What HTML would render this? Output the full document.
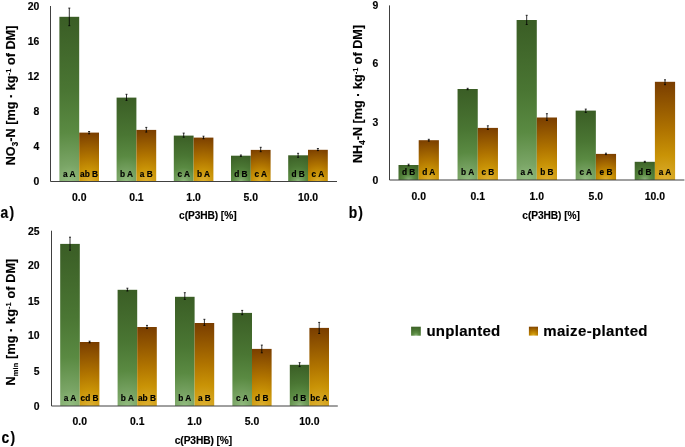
<!DOCTYPE html><html><head><meta charset="utf-8"><style>html,body{margin:0;padding:0;background:#fff;overflow:hidden}svg{display:block;will-change:transform}text{font-family:"Liberation Sans", sans-serif;font-weight:bold;fill:#000;stroke:#000;stroke-width:0.15px}</style></head><body>
<svg width="685" height="447" viewBox="0 0 685 447">
<defs><radialGradient id="r1" gradientUnits="userSpaceOnUse" cx="69.30" cy="181.50" r="165.00"><stop offset="0" stop-color="#93bd80"/><stop offset="0.1" stop-color="#7aa566"/><stop offset="0.3" stop-color="#5a8a42"/><stop offset="0.55" stop-color="#4a7633"/><stop offset="1" stop-color="#3a5d25"/></radialGradient><radialGradient id="r2" gradientUnits="userSpaceOnUse" cx="89.10" cy="181.50" r="49.89"><stop offset="0" stop-color="#ddb030"/><stop offset="0.25" stop-color="#c99306"/><stop offset="0.5" stop-color="#b07400"/><stop offset="1" stop-color="#793d00"/></radialGradient><radialGradient id="r3" gradientUnits="userSpaceOnUse" cx="126.50" cy="181.50" r="84.48"><stop offset="0" stop-color="#93bd80"/><stop offset="0.1" stop-color="#7aa566"/><stop offset="0.3" stop-color="#5a8a42"/><stop offset="0.55" stop-color="#4a7633"/><stop offset="1" stop-color="#3a5d25"/></radialGradient><radialGradient id="r4" gradientUnits="userSpaceOnUse" cx="146.30" cy="181.50" r="52.54"><stop offset="0" stop-color="#ddb030"/><stop offset="0.25" stop-color="#c99306"/><stop offset="0.5" stop-color="#b07400"/><stop offset="1" stop-color="#793d00"/></radialGradient><radialGradient id="r5" gradientUnits="userSpaceOnUse" cx="183.70" cy="181.50" r="46.96"><stop offset="0" stop-color="#93bd80"/><stop offset="0.1" stop-color="#7aa566"/><stop offset="0.3" stop-color="#5a8a42"/><stop offset="0.55" stop-color="#4a7633"/><stop offset="1" stop-color="#3a5d25"/></radialGradient><radialGradient id="r6" gradientUnits="userSpaceOnUse" cx="203.50" cy="181.50" r="45.00"><stop offset="0" stop-color="#ddb030"/><stop offset="0.25" stop-color="#c99306"/><stop offset="0.5" stop-color="#b07400"/><stop offset="1" stop-color="#793d00"/></radialGradient><radialGradient id="r7" gradientUnits="userSpaceOnUse" cx="240.90" cy="181.50" r="27.63"><stop offset="0" stop-color="#93bd80"/><stop offset="0.1" stop-color="#7aa566"/><stop offset="0.3" stop-color="#5a8a42"/><stop offset="0.55" stop-color="#4a7633"/><stop offset="1" stop-color="#3a5d25"/></radialGradient><radialGradient id="r8" gradientUnits="userSpaceOnUse" cx="260.70" cy="181.50" r="33.11"><stop offset="0" stop-color="#ddb030"/><stop offset="0.25" stop-color="#c99306"/><stop offset="0.5" stop-color="#b07400"/><stop offset="1" stop-color="#793d00"/></radialGradient><radialGradient id="r9" gradientUnits="userSpaceOnUse" cx="298.10" cy="181.50" r="28.01"><stop offset="0" stop-color="#93bd80"/><stop offset="0.1" stop-color="#7aa566"/><stop offset="0.3" stop-color="#5a8a42"/><stop offset="0.55" stop-color="#4a7633"/><stop offset="1" stop-color="#3a5d25"/></radialGradient><radialGradient id="r10" gradientUnits="userSpaceOnUse" cx="317.90" cy="181.50" r="33.21"><stop offset="0" stop-color="#ddb030"/><stop offset="0.25" stop-color="#c99306"/><stop offset="0.5" stop-color="#b07400"/><stop offset="1" stop-color="#793d00"/></radialGradient><radialGradient id="r11" gradientUnits="userSpaceOnUse" cx="408.60" cy="180.00" r="18.08"><stop offset="0" stop-color="#93bd80"/><stop offset="0.1" stop-color="#7aa566"/><stop offset="0.3" stop-color="#5a8a42"/><stop offset="0.55" stop-color="#4a7633"/><stop offset="1" stop-color="#3a5d25"/></radialGradient><radialGradient id="r12" gradientUnits="userSpaceOnUse" cx="428.80" cy="180.00" r="41.06"><stop offset="0" stop-color="#ddb030"/><stop offset="0.25" stop-color="#c99306"/><stop offset="0.5" stop-color="#b07400"/><stop offset="1" stop-color="#793d00"/></radialGradient><radialGradient id="r13" gradientUnits="userSpaceOnUse" cx="467.65" cy="180.00" r="91.56"><stop offset="0" stop-color="#93bd80"/><stop offset="0.1" stop-color="#7aa566"/><stop offset="0.3" stop-color="#5a8a42"/><stop offset="0.55" stop-color="#4a7633"/><stop offset="1" stop-color="#3a5d25"/></radialGradient><radialGradient id="r14" gradientUnits="userSpaceOnUse" cx="487.85" cy="180.00" r="53.07"><stop offset="0" stop-color="#ddb030"/><stop offset="0.25" stop-color="#c99306"/><stop offset="0.5" stop-color="#b07400"/><stop offset="1" stop-color="#793d00"/></radialGradient><radialGradient id="r15" gradientUnits="userSpaceOnUse" cx="526.70" cy="180.00" r="160.32"><stop offset="0" stop-color="#93bd80"/><stop offset="0.1" stop-color="#7aa566"/><stop offset="0.3" stop-color="#5a8a42"/><stop offset="0.55" stop-color="#4a7633"/><stop offset="1" stop-color="#3a5d25"/></radialGradient><radialGradient id="r16" gradientUnits="userSpaceOnUse" cx="546.90" cy="180.00" r="63.31"><stop offset="0" stop-color="#ddb030"/><stop offset="0.25" stop-color="#c99306"/><stop offset="0.5" stop-color="#b07400"/><stop offset="1" stop-color="#793d00"/></radialGradient><radialGradient id="r17" gradientUnits="userSpaceOnUse" cx="585.75" cy="180.00" r="70.13"><stop offset="0" stop-color="#93bd80"/><stop offset="0.1" stop-color="#7aa566"/><stop offset="0.3" stop-color="#5a8a42"/><stop offset="0.55" stop-color="#4a7633"/><stop offset="1" stop-color="#3a5d25"/></radialGradient><radialGradient id="r18" gradientUnits="userSpaceOnUse" cx="605.95" cy="180.00" r="27.99"><stop offset="0" stop-color="#ddb030"/><stop offset="0.25" stop-color="#c99306"/><stop offset="0.5" stop-color="#b07400"/><stop offset="1" stop-color="#793d00"/></radialGradient><radialGradient id="r19" gradientUnits="userSpaceOnUse" cx="644.80" cy="180.00" r="20.81"><stop offset="0" stop-color="#93bd80"/><stop offset="0.1" stop-color="#7aa566"/><stop offset="0.3" stop-color="#5a8a42"/><stop offset="0.55" stop-color="#4a7633"/><stop offset="1" stop-color="#3a5d25"/></radialGradient><radialGradient id="r20" gradientUnits="userSpaceOnUse" cx="665.00" cy="180.00" r="98.72"><stop offset="0" stop-color="#ddb030"/><stop offset="0.25" stop-color="#c99306"/><stop offset="0.5" stop-color="#b07400"/><stop offset="1" stop-color="#793d00"/></radialGradient><radialGradient id="r21" gradientUnits="userSpaceOnUse" cx="70.00" cy="406.00" r="162.40"><stop offset="0" stop-color="#93bd80"/><stop offset="0.1" stop-color="#7aa566"/><stop offset="0.3" stop-color="#5a8a42"/><stop offset="0.55" stop-color="#4a7633"/><stop offset="1" stop-color="#3a5d25"/></radialGradient><radialGradient id="r22" gradientUnits="userSpaceOnUse" cx="89.60" cy="406.00" r="64.75"><stop offset="0" stop-color="#ddb030"/><stop offset="0.25" stop-color="#c99306"/><stop offset="0.5" stop-color="#b07400"/><stop offset="1" stop-color="#793d00"/></radialGradient><radialGradient id="r23" gradientUnits="userSpaceOnUse" cx="127.40" cy="406.00" r="116.61"><stop offset="0" stop-color="#93bd80"/><stop offset="0.1" stop-color="#7aa566"/><stop offset="0.3" stop-color="#5a8a42"/><stop offset="0.55" stop-color="#4a7633"/><stop offset="1" stop-color="#3a5d25"/></radialGradient><radialGradient id="r24" gradientUnits="userSpaceOnUse" cx="147.00" cy="406.00" r="79.61"><stop offset="0" stop-color="#ddb030"/><stop offset="0.25" stop-color="#c99306"/><stop offset="0.5" stop-color="#b07400"/><stop offset="1" stop-color="#793d00"/></radialGradient><radialGradient id="r25" gradientUnits="userSpaceOnUse" cx="184.80" cy="406.00" r="109.64"><stop offset="0" stop-color="#93bd80"/><stop offset="0.1" stop-color="#7aa566"/><stop offset="0.3" stop-color="#5a8a42"/><stop offset="0.55" stop-color="#4a7633"/><stop offset="1" stop-color="#3a5d25"/></radialGradient><radialGradient id="r26" gradientUnits="userSpaceOnUse" cx="204.40" cy="406.00" r="83.58"><stop offset="0" stop-color="#ddb030"/><stop offset="0.25" stop-color="#c99306"/><stop offset="0.5" stop-color="#b07400"/><stop offset="1" stop-color="#793d00"/></radialGradient><radialGradient id="r27" gradientUnits="userSpaceOnUse" cx="242.20" cy="406.00" r="93.61"><stop offset="0" stop-color="#93bd80"/><stop offset="0.1" stop-color="#7aa566"/><stop offset="0.3" stop-color="#5a8a42"/><stop offset="0.55" stop-color="#4a7633"/><stop offset="1" stop-color="#3a5d25"/></radialGradient><radialGradient id="r28" gradientUnits="userSpaceOnUse" cx="261.80" cy="406.00" r="57.93"><stop offset="0" stop-color="#ddb030"/><stop offset="0.25" stop-color="#c99306"/><stop offset="0.5" stop-color="#b07400"/><stop offset="1" stop-color="#793d00"/></radialGradient><radialGradient id="r29" gradientUnits="userSpaceOnUse" cx="299.60" cy="406.00" r="42.35"><stop offset="0" stop-color="#93bd80"/><stop offset="0.1" stop-color="#7aa566"/><stop offset="0.3" stop-color="#5a8a42"/><stop offset="0.55" stop-color="#4a7633"/><stop offset="1" stop-color="#3a5d25"/></radialGradient><radialGradient id="r30" gradientUnits="userSpaceOnUse" cx="319.20" cy="406.00" r="78.71"><stop offset="0" stop-color="#ddb030"/><stop offset="0.25" stop-color="#c99306"/><stop offset="0.5" stop-color="#b07400"/><stop offset="1" stop-color="#793d00"/></radialGradient><radialGradient id="r31" gradientUnits="userSpaceOnUse" cx="415.95" cy="335.70" r="10.22"><stop offset="0" stop-color="#93bd80"/><stop offset="0.1" stop-color="#7aa566"/><stop offset="0.3" stop-color="#5a8a42"/><stop offset="0.55" stop-color="#4a7633"/><stop offset="1" stop-color="#3a5d25"/></radialGradient><radialGradient id="r32" gradientUnits="userSpaceOnUse" cx="533.45" cy="335.60" r="10.00"><stop offset="0" stop-color="#ddb030"/><stop offset="0.25" stop-color="#c99306"/><stop offset="0.5" stop-color="#b07400"/><stop offset="1" stop-color="#793d00"/></radialGradient></defs>
<rect width="685" height="447" fill="#fff"/>
<rect x="59.40" y="16.80" width="19.80" height="164.70" fill="url(#r1)"/>
<text x="69.30" y="176.90" font-size="8.3" text-anchor="middle" fill="#111">a A</text>
<path d="M69.30 8.10V25.70M68.30 8.10h2M68.30 25.70h2" stroke="#000" stroke-width="0.8" fill="none"/>
<rect x="79.20" y="132.60" width="19.80" height="48.90" fill="url(#r2)"/>
<text x="89.10" y="176.90" font-size="8.3" text-anchor="middle" fill="#111">ab B</text>
<path d="M89.10 131.50V133.80M88.10 131.50h2M88.10 133.80h2" stroke="#000" stroke-width="0.8" fill="none"/>
<text x="79.20" y="201.00" font-size="10.4" text-anchor="middle">0.0</text>
<rect x="116.60" y="97.60" width="19.80" height="83.90" fill="url(#r3)"/>
<text x="126.50" y="176.90" font-size="8.3" text-anchor="middle" fill="#111">b A</text>
<path d="M126.50 94.30V100.40M125.50 94.30h2M125.50 100.40h2" stroke="#000" stroke-width="0.8" fill="none"/>
<rect x="136.40" y="129.90" width="19.80" height="51.60" fill="url(#r4)"/>
<text x="146.30" y="176.90" font-size="8.3" text-anchor="middle" fill="#111">a B</text>
<path d="M146.30 127.40V132.10M145.30 127.40h2M145.30 132.10h2" stroke="#000" stroke-width="0.8" fill="none"/>
<text x="136.40" y="201.00" font-size="10.4" text-anchor="middle">0.1</text>
<rect x="173.80" y="135.60" width="19.80" height="45.90" fill="url(#r5)"/>
<text x="183.70" y="176.90" font-size="8.3" text-anchor="middle" fill="#111">c A</text>
<path d="M183.70 133.10V137.20M182.70 133.10h2M182.70 137.20h2" stroke="#000" stroke-width="0.8" fill="none"/>
<rect x="193.60" y="137.60" width="19.80" height="43.90" fill="url(#r6)"/>
<text x="203.50" y="176.90" font-size="8.3" text-anchor="middle" fill="#111">b A</text>
<path d="M203.50 136.20V138.70M202.50 136.20h2M202.50 138.70h2" stroke="#000" stroke-width="0.8" fill="none"/>
<text x="193.60" y="201.00" font-size="10.4" text-anchor="middle">1.0</text>
<rect x="231.00" y="155.70" width="19.80" height="25.80" fill="url(#r7)"/>
<text x="240.90" y="176.90" font-size="8.3" text-anchor="middle" fill="#111">d B</text>
<path d="M240.90 155.00V156.40M239.90 155.00h2M239.90 156.40h2" stroke="#000" stroke-width="0.8" fill="none"/>
<rect x="250.80" y="149.90" width="19.80" height="31.60" fill="url(#r8)"/>
<text x="260.70" y="176.90" font-size="8.3" text-anchor="middle" fill="#111">c A</text>
<path d="M260.70 147.30V151.70M259.70 147.30h2M259.70 151.70h2" stroke="#000" stroke-width="0.8" fill="none"/>
<text x="250.80" y="201.00" font-size="10.4" text-anchor="middle">5.0</text>
<rect x="288.20" y="155.30" width="19.80" height="26.20" fill="url(#r9)"/>
<text x="298.10" y="176.90" font-size="8.3" text-anchor="middle" fill="#111">d B</text>
<path d="M298.10 153.30V157.30M297.10 153.30h2M297.10 157.30h2" stroke="#000" stroke-width="0.8" fill="none"/>
<rect x="308.00" y="149.80" width="19.80" height="31.70" fill="url(#r10)"/>
<text x="317.90" y="176.90" font-size="8.3" text-anchor="middle" fill="#111">c A</text>
<path d="M317.90 148.50V150.60M316.90 148.50h2M316.90 150.60h2" stroke="#000" stroke-width="0.8" fill="none"/>
<text x="308.00" y="201.00" font-size="10.4" text-anchor="middle">10.0</text>
<path d="M50.50 6.00V181.50H337.00" stroke="#404040" stroke-width="1" fill="none"/>
<text x="39.20" y="185.10" font-size="10.4" text-anchor="end">0</text>
<text x="39.20" y="150.40" font-size="10.4" text-anchor="end">4</text>
<text x="39.20" y="114.60" font-size="10.4" text-anchor="end">8</text>
<text x="39.20" y="79.90" font-size="10.4" text-anchor="end">12</text>
<text x="39.20" y="45.30" font-size="10.4" text-anchor="end">16</text>
<text x="39.20" y="10.30" font-size="10.4" text-anchor="end">20</text>
<text x="207.80" y="218.80" font-size="10.2" text-anchor="middle" textLength="57.5">c(P3HB) [%]</text>
<text transform="translate(0.60 217.70) scale(0.84 1)" font-size="16.5" style="stroke-width:0.2px;letter-spacing:1.3px">a)</text>
<rect x="398.50" y="165.00" width="20.20" height="15.00" fill="url(#r11)"/>
<text x="408.60" y="175.40" font-size="8.3" text-anchor="middle" fill="#111">d B</text>
<path d="M408.60 164.20V165.80M407.60 164.20h2M407.60 165.80h2" stroke="#000" stroke-width="0.8" fill="none"/>
<rect x="418.70" y="140.20" width="20.20" height="39.80" fill="url(#r12)"/>
<text x="428.80" y="175.40" font-size="8.3" text-anchor="middle" fill="#111">d A</text>
<path d="M428.80 139.30V141.10M427.80 139.30h2M427.80 141.10h2" stroke="#000" stroke-width="0.8" fill="none"/>
<text x="418.70" y="199.90" font-size="10.4" text-anchor="middle">0.0</text>
<rect x="457.55" y="89.00" width="20.20" height="91.00" fill="url(#r13)"/>
<text x="467.65" y="175.40" font-size="8.3" text-anchor="middle" fill="#111">b A</text>
<path d="M467.65 88.30V89.70M466.65 88.30h2M466.65 89.70h2" stroke="#000" stroke-width="0.8" fill="none"/>
<rect x="477.75" y="127.90" width="20.20" height="52.10" fill="url(#r14)"/>
<text x="487.85" y="175.40" font-size="8.3" text-anchor="middle" fill="#111">c B</text>
<path d="M487.85 125.80V129.50M486.85 125.80h2M486.85 129.50h2" stroke="#000" stroke-width="0.8" fill="none"/>
<text x="477.75" y="199.90" font-size="10.4" text-anchor="middle">0.1</text>
<rect x="516.60" y="20.00" width="20.20" height="160.00" fill="url(#r15)"/>
<text x="526.70" y="175.40" font-size="8.3" text-anchor="middle" fill="#111">a A</text>
<path d="M526.70 15.30V24.50M525.70 15.30h2M525.70 24.50h2" stroke="#000" stroke-width="0.8" fill="none"/>
<rect x="536.80" y="117.50" width="20.20" height="62.50" fill="url(#r16)"/>
<text x="546.90" y="175.40" font-size="8.3" text-anchor="middle" fill="#111">b B</text>
<path d="M546.90 113.70V120.40M545.90 113.70h2M545.90 120.40h2" stroke="#000" stroke-width="0.8" fill="none"/>
<text x="536.80" y="199.90" font-size="10.4" text-anchor="middle">1.0</text>
<rect x="575.65" y="110.60" width="20.20" height="69.40" fill="url(#r17)"/>
<text x="585.75" y="175.40" font-size="8.3" text-anchor="middle" fill="#111">c A</text>
<path d="M585.75 109.10V112.40M584.75 109.10h2M584.75 112.40h2" stroke="#000" stroke-width="0.8" fill="none"/>
<rect x="595.85" y="153.90" width="20.20" height="26.10" fill="url(#r18)"/>
<text x="605.95" y="175.40" font-size="8.3" text-anchor="middle" fill="#111">e B</text>
<path d="M605.95 153.20V154.60M604.95 153.20h2M604.95 154.60h2" stroke="#000" stroke-width="0.8" fill="none"/>
<text x="595.85" y="199.90" font-size="10.4" text-anchor="middle">5.0</text>
<rect x="634.70" y="161.80" width="20.20" height="18.20" fill="url(#r19)"/>
<text x="644.80" y="175.40" font-size="8.3" text-anchor="middle" fill="#111">d B</text>
<path d="M644.80 161.30V162.30M643.80 161.30h2M643.80 162.30h2" stroke="#000" stroke-width="0.8" fill="none"/>
<rect x="654.90" y="81.80" width="20.20" height="98.20" fill="url(#r20)"/>
<text x="665.00" y="175.40" font-size="8.3" text-anchor="middle" fill="#111">a A</text>
<path d="M665.00 79.80V84.70M664.00 79.80h2M664.00 84.70h2" stroke="#000" stroke-width="0.8" fill="none"/>
<text x="654.90" y="199.90" font-size="10.4" text-anchor="middle">10.0</text>
<path d="M389.50 5.40V180.00H684.40" stroke="#404040" stroke-width="1" fill="none"/>
<text x="378.40" y="183.70" font-size="10.4" text-anchor="end">0</text>
<text x="378.40" y="125.50" font-size="10.4" text-anchor="end">3</text>
<text x="378.40" y="67.30" font-size="10.4" text-anchor="end">6</text>
<text x="378.40" y="9.10" font-size="10.4" text-anchor="end">9</text>
<text x="551.10" y="218.60" font-size="10.2" text-anchor="middle" textLength="57.5">c(P3HB) [%]</text>
<text transform="translate(348.70 217.90) scale(0.84 1)" font-size="16.5" style="stroke-width:0.2px;letter-spacing:1.3px">b)</text>
<rect x="60.20" y="243.90" width="19.60" height="162.10" fill="url(#r21)"/>
<text x="70.00" y="401.40" font-size="8.3" text-anchor="middle" fill="#111">a A</text>
<path d="M70.00 237.20V250.20M69.00 237.20h2M69.00 250.20h2" stroke="#000" stroke-width="0.8" fill="none"/>
<rect x="79.80" y="342.00" width="19.60" height="64.00" fill="url(#r22)"/>
<text x="89.60" y="401.40" font-size="8.3" text-anchor="middle" fill="#111">cd B</text>
<path d="M89.60 341.20V342.80M88.60 341.20h2M88.60 342.80h2" stroke="#000" stroke-width="0.8" fill="none"/>
<text x="79.80" y="425.20" font-size="10.4" text-anchor="middle">0.0</text>
<rect x="117.60" y="289.80" width="19.60" height="116.20" fill="url(#r23)"/>
<text x="127.40" y="401.40" font-size="8.3" text-anchor="middle" fill="#111">b A</text>
<path d="M127.40 288.20V291.00M126.40 288.20h2M126.40 291.00h2" stroke="#000" stroke-width="0.8" fill="none"/>
<rect x="137.20" y="327.00" width="19.60" height="79.00" fill="url(#r24)"/>
<text x="147.00" y="401.40" font-size="8.3" text-anchor="middle" fill="#111">ab B</text>
<path d="M147.00 325.40V328.50M146.00 325.40h2M146.00 328.50h2" stroke="#000" stroke-width="0.8" fill="none"/>
<text x="137.20" y="425.20" font-size="10.4" text-anchor="middle">0.1</text>
<rect x="175.00" y="296.80" width="19.60" height="109.20" fill="url(#r25)"/>
<text x="184.80" y="401.40" font-size="8.3" text-anchor="middle" fill="#111">b A</text>
<path d="M184.80 292.70V299.40M183.80 292.70h2M183.80 299.40h2" stroke="#000" stroke-width="0.8" fill="none"/>
<rect x="194.60" y="323.00" width="19.60" height="83.00" fill="url(#r26)"/>
<text x="204.40" y="401.40" font-size="8.3" text-anchor="middle" fill="#111">a B</text>
<path d="M204.40 319.30V325.40M203.40 319.30h2M203.40 325.40h2" stroke="#000" stroke-width="0.8" fill="none"/>
<text x="194.60" y="425.20" font-size="10.4" text-anchor="middle">1.0</text>
<rect x="232.40" y="312.90" width="19.60" height="93.10" fill="url(#r27)"/>
<text x="242.20" y="401.40" font-size="8.3" text-anchor="middle" fill="#111">c A</text>
<path d="M242.20 310.40V314.70M241.20 310.40h2M241.20 314.70h2" stroke="#000" stroke-width="0.8" fill="none"/>
<rect x="252.00" y="348.90" width="19.60" height="57.10" fill="url(#r28)"/>
<text x="261.80" y="401.40" font-size="8.3" text-anchor="middle" fill="#111">d B</text>
<path d="M261.80 345.10V352.80M260.80 345.10h2M260.80 352.80h2" stroke="#000" stroke-width="0.8" fill="none"/>
<text x="252.00" y="425.20" font-size="10.4" text-anchor="middle">5.0</text>
<rect x="289.80" y="364.80" width="19.60" height="41.20" fill="url(#r29)"/>
<text x="299.60" y="401.40" font-size="8.3" text-anchor="middle" fill="#111">d B</text>
<path d="M299.60 362.70V366.60M298.60 362.70h2M298.60 366.60h2" stroke="#000" stroke-width="0.8" fill="none"/>
<rect x="309.40" y="327.90" width="19.60" height="78.10" fill="url(#r30)"/>
<text x="319.20" y="401.40" font-size="8.3" text-anchor="middle" fill="#111">bc A</text>
<path d="M319.20 322.40V333.50M318.20 322.40h2M318.20 333.50h2" stroke="#000" stroke-width="0.8" fill="none"/>
<text x="309.40" y="425.20" font-size="10.4" text-anchor="middle">10.0</text>
<path d="M51.50 230.70V406.00H337.80" stroke="#404040" stroke-width="1" fill="none"/>
<text x="39.60" y="409.60" font-size="10.4" text-anchor="end">0</text>
<text x="39.60" y="374.70" font-size="10.4" text-anchor="end">5</text>
<text x="39.60" y="339.30" font-size="10.4" text-anchor="end">10</text>
<text x="39.60" y="304.80" font-size="10.4" text-anchor="end">15</text>
<text x="39.60" y="269.30" font-size="10.4" text-anchor="end">20</text>
<text x="39.60" y="234.60" font-size="10.4" text-anchor="end">25</text>
<text x="203.50" y="443.90" font-size="10.2" text-anchor="middle" textLength="57.5">c(P3HB) [%]</text>
<text transform="translate(1.60 442.80) scale(0.84 1)" font-size="16.5" style="stroke-width:0.2px;letter-spacing:1.3px">c)</text>
<text transform="translate(14.90 95.50) rotate(-90)" font-size="12.6" text-anchor="middle" textLength="139.7" stroke="#000" stroke-width="0.25">NO<tspan font-size="8.2" dy="2.8">3</tspan><tspan dy="-2.8">-N [mg · kg</tspan><tspan font-size="7.5" dy="-4.2">-1</tspan><tspan dy="4.2"> of DM]</tspan></text>
<text transform="translate(362.40 94.00) rotate(-90)" font-size="12.6" text-anchor="middle" textLength="138.2" stroke="#000" stroke-width="0.25">NH<tspan font-size="8.2" dy="2.8">4</tspan><tspan dy="-2.8">-N [mg · kg</tspan><tspan font-size="7.5" dy="-4.2">-1</tspan><tspan dy="4.2"> of DM]</tspan></text>
<text transform="translate(14.90 322.10) rotate(-90)" font-size="12.6" text-anchor="middle" textLength="126.7" stroke="#000" stroke-width="0.25">N<tspan font-size="7.5" dy="2.8">min</tspan><tspan dy="-2.8"> [mg · kg</tspan><tspan font-size="7.5" dy="-4.2">-1</tspan><tspan dy="4.2"> of DM]</tspan></text>
<rect x="411.10" y="326.70" width="9.70" height="9.00" fill="url(#r31)"/>
<text x="426.4" y="335.8" font-size="15" textLength="73.8">unplanted</text>
<rect x="528.90" y="326.70" width="9.10" height="8.90" fill="url(#r32)"/>
<text x="543.2" y="335.8" font-size="15" textLength="104.3">maize-planted</text>
</svg></body></html>
